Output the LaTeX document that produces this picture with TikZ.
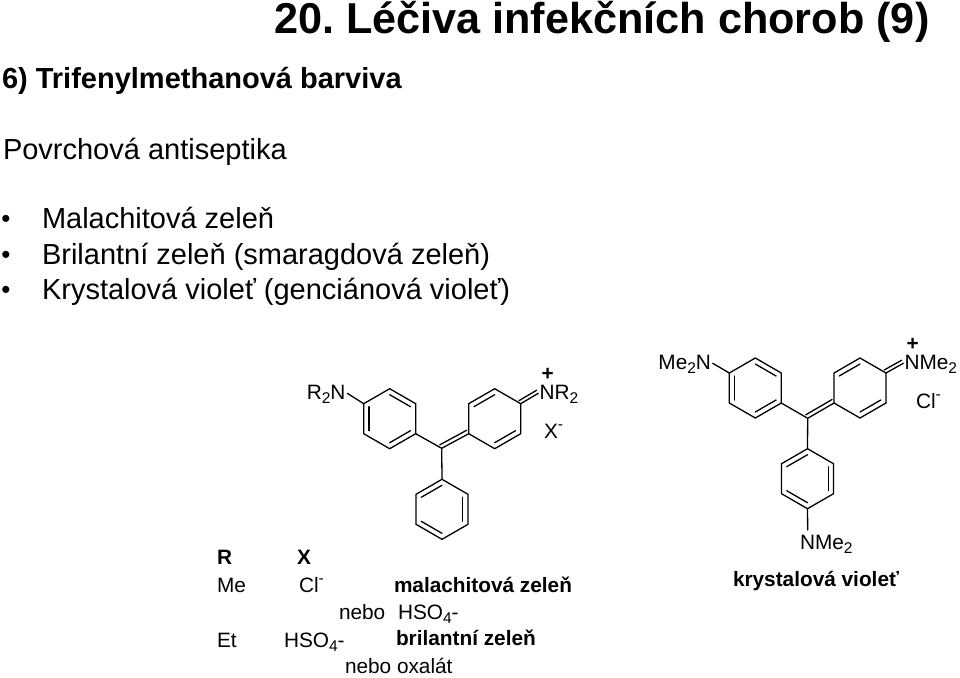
\documentclass[tikz,border=0pt]{standalone}
\usepackage{fontspec}
\setmainfont{Liberation Sans}
\usetikzlibrary{calc}
\newcommand{\low}[1]{\raisebox{-0.22em}{\fontsize{15.5}{15.5}\selectfont #1}}
\newcommand{\hi}[1]{\raisebox{0.42em}{\fontsize{15.5}{15.5}\selectfont #1}}
\tikzset{
    txt/.style={anchor=base west, inner sep=0pt, outer sep=0pt, text=black},
    title/.style={txt, font=\bfseries\fontsize{43.2}{43.2}\selectfont},
    heading/.style={txt, font=\bfseries\fontsize{29}{29}\selectfont},
    bodytext/.style={txt, font=\fontsize{29}{29}\selectfont},
    dotmark/.style={txt, font=\fontsize{26}{26}\selectfont},
    chem/.style={txt, font=\fontsize{20.8}{20.8}\selectfont},
    chembold/.style={txt, font=\bfseries\fontsize{20.8}{20.8}\selectfont},
    bond/.style={line width=1.3pt, line join=miter, line cap=round}
}
\begin{document}
\frenchspacing
\begin{tikzpicture}[x=1pt, y=-1pt]
    \useasboundingbox (0,0) rectangle (960,677);

    % Nadpisy
    \node[title] (nadpis) at (274,34) {20. Léčiva infekčních chorob (9)};
    \node[heading] (barviva) at (2,88.5) {6) Trifenylmethanová barviva};
    \node[bodytext] (povrch) at (3,159) {Povrchová antiseptika};

    % Odrážky
    \foreach \n/\y/\t in {one/228/{Malachitová zeleň},
                          two/264/{Brilantní zeleň (smaragdová zeleň)},
                          three/299/{Krystalová violeť (genciánová violeť)}} {
        \node[bodytext] (item\n) at (42,\y) {\t};
        \node[dotmark] (dot\n) at (1.5,\y-1) {\textbullet};
    }

    % Kruhy: a = levý vzorec, b = pravý vzorec
    \foreach \r/\x/\y in {aL/389.7/418.7, aR/494.7/418.7, aB/442/509.3,
                          bL/755.3/388, bR/860/388, bB/807.5/478.7} {
        \coordinate (\r0) at (\x,\y);
        \foreach \i/\a in {1/-90, 2/-30, 3/30, 4/90, 5/150, 6/210}
            \coordinate (\r\i) at ($(\x,\y)+(\a:30)$);
        \draw[bond] (\r1) -- (\r2) -- (\r3) -- (\r4) -- (\r5) -- (\r6) -- cycle;
    }

    % Vnitřní dvojné vazby
    \foreach \r/\i/\j in {aL/6/5, aL/1/2, aL/3/4, aR/6/1, aR/4/3, aB/2/3, aB/6/1, aB/5/4,
                          bL/6/5, bL/1/2, bL/3/4, bR/6/1, bR/4/3, bB/2/3, bB/6/1, bB/5/4}
        \draw[bond] ($(\r\i)!0.2!(\r0)$) -- ($(\r\j)!0.2!(\r0)$);

    % Střední uhlíky
    \coordinate (aC) at (441.7,448.3);
    \coordinate (bC) at (807.7,418.3);
    \foreach \m in {a,b} {
        \draw[bond] (\m L3) -- (\m C) -- (\m B1);
        \draw[bond] (\m C) -- (\m R5);
        \draw[bond] ($(\m C)!4pt!90:(\m R5)$) -- ($(\m R5)!4pt!-90:(\m C)$);
    }

    % Levý vzorec, popisky
    \node[chem, anchor=base east] (aNl) at (345.5,399) {R\low{2}N};
    \node[chem] (aNr) at (539.5,399) {NR\low{2}};
    \node[chem] (aplus) at (541.5,380) {\bfseries +};
    \node[chem] (aX) at (544,438) {X\hi{-}};

    % Pravý vzorec, popisky
    \node[chem, anchor=base east] (bNl) at (711,369) {Me\low{2}N};
    \node[chem] (bNr) at (904.5,369) {NMe\low{2}};
    \node[chem] (bplus) at (906.5,350) {\bfseries +};
    \node[chem] (bCl) at (916,408) {Cl\hi{-}};
    \node[chem] (bNd) at (800,549) {NMe\low{2}};
    \node[chembold] (krystal) at (733,586) {krystalová violeť};

    % Vazby k dusíkům
    \coordinate (aNlb) at (347.3,393.3);
    \coordinate (aNrb) at (538.3,393.3);
    \coordinate (bNlb) at (712.7,363.3);
    \coordinate (bNrb) at (903.3,363.3);
    \coordinate (bNdb) at (807.7,530);
    \foreach \m in {a,b} {
        \draw[bond] (\m Nlb) -- (\m L6);
        \draw[bond] (\m R2) -- (\m Nrb);
        \draw[bond] ($(\m R2)!3.5pt!90:(\m Nrb)$) -- ($(\m Nrb)!3.5pt!-90:(\m R2)$);
    }
    \draw[bond] (bB4) -- (bNdb);

    % Tabulka
    \node[chembold] (tR) at (217,564) {R};
    \node[chembold] (tX) at (297,564) {X};
    \node[chem] (tMe) at (217,592) {Me};
    \node[chem] (tCl) at (299,592) {Cl\hi{-}};
    \node[chembold] (tmal) at (394,592) {malachitová zeleň};
    \node[chem] (tnebo) at (339,619) {nebo};
    \node[chem] (tHSOa) at (398,619) {HSO\low{4}-};
    \node[chem] (tEt) at (217,647) {Et};
    \node[chem] (tHSOb) at (284,647) {HSO\low{4}-};
    \node[chembold] (tbril) at (396,645) {brilantní zeleň};
    \node[chem] (toxal) at (345,673) {nebo oxalát};
\end{tikzpicture}
\end{document}
